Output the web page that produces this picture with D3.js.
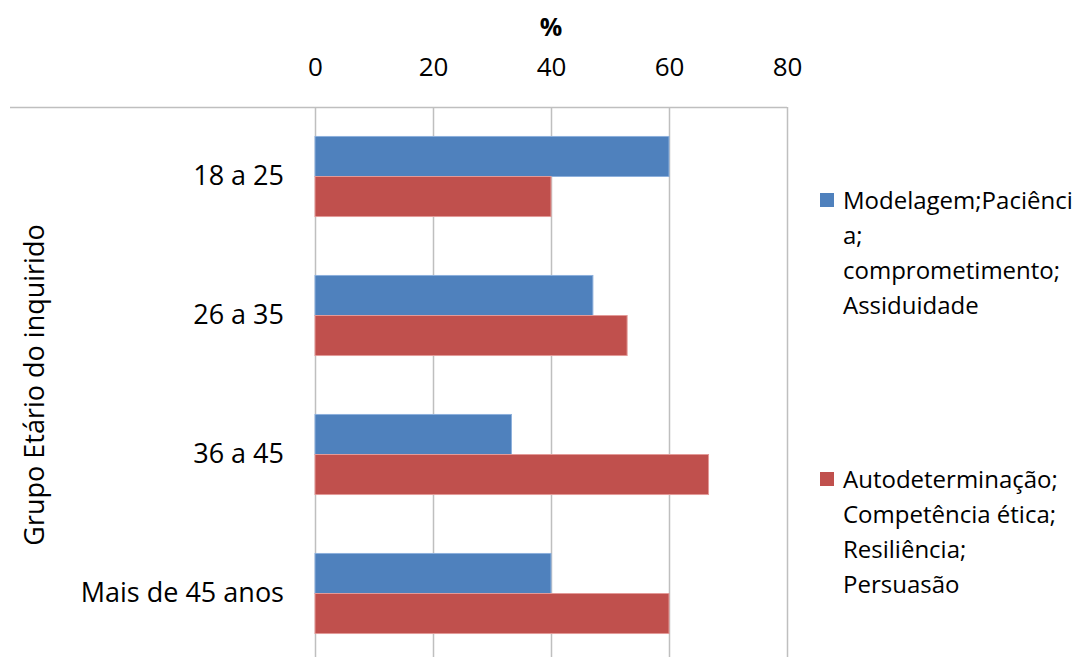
<!DOCTYPE html>
<html>
<head>
<meta charset="utf-8">
<script src="https://cdn.jsdelivr.net/npm/d3@7/dist/d3.min.js"></script>
<style>
  html, body { margin: 0; padding: 0; background: #fff; }
  svg { display: block; font-family: "Open Sans", "Noto Sans", sans-serif; }
</style>
</head>
<body>
<svg id="chart" width="1088" height="657"></svg>
<script>
// Age groups (top to bottom) and the share (%) choosing each skill group
const categories = ["18 a 25", "26 a 35", "36 a 45", "Mais de 45 anos"];
const seriesNames = [
  ["Modelagem;Paciênci", "a;", "comprometimento;", "Assiduidade"],
  ["Autodeterminação;", "Competência ética;", "Resiliência;", "Persuasão"]
];
const seriesColors = ["#4F81BD", "#C0504D"];
const seriesEdges = ["#8db0dc", "#e39a98"];
const modelagemValues = [60, 47.1, 33.3, 40];
const autodeterminacaoValues = [40, 52.9, 66.7, 60];
const xTicks = [0, 20, 40, 60, 80];
const xTitle = "%";
const yTitle = "Grupo Etário do inquirido";

const seriesValues = [modelagemValues, autodeterminacaoValues];

const svg = d3.select("#chart");
const plot = { left: 315, right: 787, top: 107, bottom: 663 };

const x = d3.scaleLinear().domain([0, 80]).range([plot.left, plot.right]);
const y = d3.scaleBand().domain(categories)
  .range([plot.top, plot.bottom]).paddingInner(0.424).paddingOuter(0.212);
const ySub = d3.scaleBand().domain([0, 1]).range([0, y.bandwidth()]);

// top border line of the plot area
svg.append("line")
  .attr("x1", 10).attr("x2", plot.right)
  .attr("y1", plot.top + 0.5).attr("y2", plot.top + 0.5)
  .attr("stroke", "#bfbfbf").attr("stroke-width", 1.5);

// vertical gridlines
svg.append("g").selectAll("line").data(xTicks).join("line")
  .attr("x1", d => Math.round(x(d)) + 0.5).attr("x2", d => Math.round(x(d)) + 0.5)
  .attr("y1", plot.top).attr("y2", 657)
  .attr("stroke", "#bfbfbf").attr("stroke-width", 1.5);

// x axis (on top)
const xAxis = svg.append("g")
  .attr("transform", `translate(0,${plot.top})`)
  .call(d3.axisTop(x).tickValues(xTicks).tickSize(0).tickPadding(31));
xAxis.select(".domain").remove();
xAxis.selectAll("text")
  .attr("font-size", 26).attr("fill", "#000")
  .attr("font-family", "'Open Sans', sans-serif");

svg.append("text")
  .attr("x", x(40)).attr("y", 36)
  .attr("text-anchor", "middle")
  .attr("font-size", 25).attr("font-weight", "bold")
  .text(xTitle);

// y axis labels
const yAxis = svg.append("g")
  .attr("transform", `translate(${plot.left},0)`)
  .call(d3.axisLeft(y).tickSize(0).tickPadding(31));
yAxis.select(".domain").remove();
yAxis.selectAll("text")
  .attr("font-size", 27).attr("fill", "#000")
  .attr("font-family", "'Open Sans', sans-serif");

svg.append("text")
  .attr("transform", `translate(44,385) rotate(-90)`)
  .attr("text-anchor", "middle")
  .attr("font-size", 27)
  .text(yTitle);

// bars
seriesValues.forEach((vals, si) => {
  svg.append("g").selectAll("rect").data(vals).join("rect")
    .attr("x", x(0))
    .attr("y", (d, i) => y(categories[i]) + ySub(si))
    .attr("width", d => x(d) - x(0))
    .attr("height", ySub.bandwidth())
    .attr("fill", seriesColors[si])
    .attr("stroke", seriesEdges[si])
    .attr("stroke-width", 1);
});

// legend
const legendTop = [200, 479];
seriesNames.forEach((lines, si) => {
  const g = svg.append("g").attr("transform", `translate(820,${legendTop[si]})`);
  g.append("rect").attr("x", 0).attr("y", -7).attr("width", 14).attr("height", 14)
    .attr("fill", seriesColors[si]);
  g.append("text")
    .attr("font-size", 24)
    .selectAll("tspan").data(lines).join("tspan")
    .attr("x", 23)
    .attr("y", (d, i) => 9 + i * 35)
    .text(d => d);
});
</script>
</body>
</html>
